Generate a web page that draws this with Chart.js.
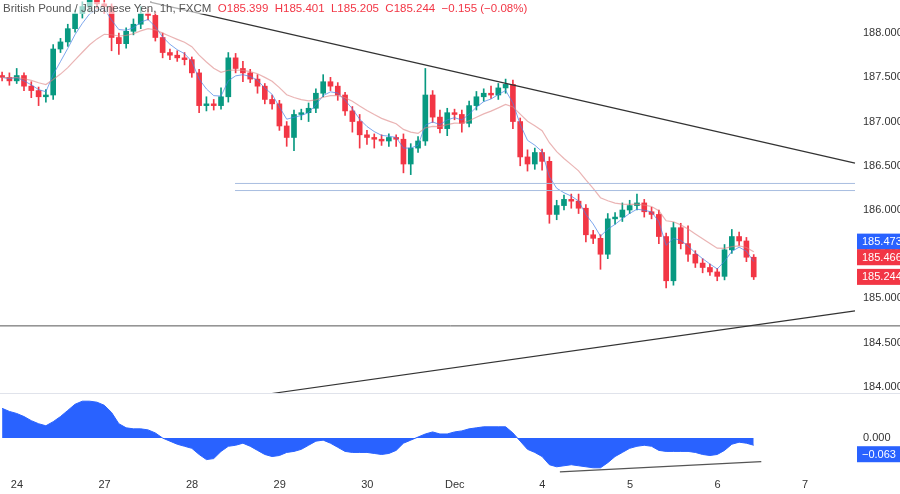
<!DOCTYPE html>
<html><head><meta charset="utf-8">
<script src="https://cdn.jsdelivr.net/npm/chart.js@4.4.1/dist/chart.umd.min.js"></script>
<style>
body{margin:0;background:#fff;width:900px;height:494px;overflow:hidden;font-family:"Liberation Sans",Arial,sans-serif}
#c1{position:absolute;left:0;top:0}
#c2{position:absolute;left:0;top:394px}
#title{position:absolute;left:3px;top:2px;font-size:11.5px;color:#555;background:rgba(255,255,255,0.6);white-space:nowrap}
#title .r{color:#f23645}
#sep{position:absolute;left:0;top:393px;width:900px;height:1px;background:#e0e3eb}
</style></head><body>
<canvas id="c1" width="900" height="394"></canvas>
<canvas id="c2" width="900" height="100"></canvas>
<div id="sep"></div>
<div id="title">British Pound / Japanese Yen, 1h, FXCM &nbsp;<span class="r">O185.399 &nbsp;H185.401 &nbsp;L185.205 &nbsp;C185.244 &nbsp;−0.155 (−0.08%)</span></div>
<script>
const dayLabels = ['24','27','28','29','30','Dec','4','5','6','7'];
const startT = -0.17, stepT = 1/12;
const closes = [187.50,187.46,187.52,187.40,187.35,187.28,187.30,187.82,187.90,188.05,
188.22,188.30,188.38,188.33,188.30,187.95,187.88,188.02,188.10,188.22,
188.20,187.95,187.78,187.75,187.72,187.70,187.55,187.18,187.20,187.18,
187.28,187.72,187.60,187.55,187.48,187.40,187.25,187.20,186.95,186.82,
187.08,187.10,187.15,187.32,187.45,187.40,187.30,187.12,187.00,186.85,
186.82,186.80,186.78,186.82,186.80,186.52,186.70,186.78,187.30,187.05,
186.92,187.10,187.08,186.98,187.18,187.28,187.32,187.30,187.38,187.42,
187.00,186.60,186.52,186.65,186.55,185.95,186.05,186.12,186.10,186.02,
185.72,185.68,185.50,185.90,185.92,186.00,186.05,186.08,185.98,185.95,
185.70,185.20,185.80,185.62,185.50,185.40,185.35,185.30,185.25,185.55,
185.70,185.65,185.466,185.244];
const wickHi = [0.04,0.05,0.08,0.03,0.05,0.04,0.06,0.05,0.04,0.05,
0.04,0.05,0.06,0.05,0.04,0.03,0.05,0.04,0.06,0.08,
0.05,0.04,0.05,0.04,0.05,0.06,0.03,0.04,0.08,0.05,
0.10,0.06,0.05,0.08,0.04,0.05,0.03,0.05,0.04,0.05,
0.05,0.04,0.06,0.05,0.08,0.05,0.04,0.03,0.05,0.08,
0.05,0.04,0.05,0.04,0.03,0.06,0.05,0.05,0.30,0.05,
0.08,0.05,0.04,0.05,0.05,0.06,0.05,0.08,0.05,0.06,
0.05,0.04,0.08,0.05,0.04,0.05,0.06,0.05,0.06,0.08,
0.04,0.05,0.04,0.06,0.05,0.08,0.06,0.10,0.04,0.05,
0.05,0.04,0.06,0.05,0.20,0.04,0.05,0.04,0.04,0.06,
0.08,0.05,0.04,0.03];
const wickLo = [0.04,0.05,0.03,0.05,0.08,0.10,0.06,0.05,0.04,0.05,
0.04,0.05,0.06,0.05,0.08,0.15,0.12,0.05,0.04,0.05,
0.05,0.04,0.06,0.05,0.04,0.06,0.05,0.08,0.06,0.05,
0.04,0.06,0.05,0.10,0.04,0.08,0.05,0.06,0.05,0.10,
0.15,0.06,0.10,0.05,0.04,0.05,0.06,0.05,0.12,0.15,
0.08,0.10,0.05,0.06,0.08,0.10,0.12,0.05,0.05,0.06,
0.05,0.08,0.06,0.10,0.04,0.05,0.05,0.04,0.05,0.06,
0.08,0.10,0.08,0.06,0.10,0.10,0.06,0.05,0.08,0.06,
0.08,0.06,0.17,0.05,0.06,0.05,0.04,0.05,0.06,0.05,
0.08,0.08,0.05,0.06,0.08,0.05,0.06,0.04,0.05,0.04,
0.04,0.05,0.05,0.03];
const oscPx = [29,26,24,21,17,14,12,16,21,27,33,36,36,35,32,25,14,10,9,9,
8,5,0,-3,-6,-8,-10,-16,-21,-20,-13,-8,-7,-5,-8,-12,-16,-18,-17,-14,
-13,-11,-7,-3,-2,-5,-9,-13,-14,-14,-14,-15,-16,-15,-12,-5,-2,1,4,6,
4,4,6,7,9,10,11,11,11,11,5,-3,-11,-14,-18,-26,-28,-27,-26,-27,
-28,-29,-29,-24,-18,-14,-10,-8,-7,-8,-12,-13,-13,-13,-13,-14,-16,-17,-16,-12,
-6,-4,-5,-7];
const downTrend = [[1.52,188.35],[9.57,186.53]];
const upTrend = [[2.87,183.92],[9.57,184.86]];
const hLine = 184.69;
const boxLines = [186.30,186.22];
const oscTrend = [[6.2,-0.132],[8.5,-0.092]];
const priceTicks = [188.0,187.5,187.0,186.5,186.0,185.5,185.0,184.5,184.0];

const XMIN=-0.194, XMAX=9.57;
const GREEN='#089981', RED='#f23645';
const ts = closes.map((c,i)=>startT+i*stepT);
const opens = closes.map((c,i)=> i===0?187.52:closes[i-1]);
const bodies = closes.map((c,i)=>({x:ts[i],y:[opens[i],c]}));
const wicks = closes.map((c,i)=>({x:ts[i],y:[Math.min(opens[i],c)-wickLo[i],Math.max(opens[i],c)+wickHi[i]]}));
const cols = closes.map((c,i)=> c>=opens[i]?GREEN:RED);
function ema(arr,n){const k=2/(n+1);let e=arr[0];return arr.map(v=>e=v*k+e*(1-k));}
const fast = ema(closes,4).map((v,i)=>({x:ts[i],y:v}));
const slow = ema(closes,13).map((v,i)=>({x:ts[i],y:v}));
const osc = oscPx.map((v,i)=>({x:ts[i],y:v*0.004}));

const lineDs=(pts,color,w)=>({type:'line',data:pts.map(p=>({x:p[0],y:p[1]})),borderColor:color,borderWidth:w,pointRadius:0,fill:false});

const LBL={
  c1:{ticks:priceTicks.map(v=>({v,t:v.toFixed(3)})),
      items:[{v:185.473,t:'185.473',bg:'#2962ff',shift:-15},{v:185.466,t:'185.466',bg:RED,shift:0},{v:185.244,t:'185.244',bg:RED,shift:0}]},
  c2:{ticks:[{v:0,t:'0.000'}],items:[{v:-0.063,t:'−0.063',bg:'#2962ff',shift:0}]}
};
const labelsPlugin={id:'lbl',afterDraw(ch){
  const o=LBL[ch.canvas.id]; if(!o) return;
  const c=ch.ctx, y=ch.scales.y;
  c.save();
  c.font='11px "Liberation Sans"';c.textAlign='left';c.textBaseline='middle';
  o.ticks.forEach(t=>{const py=y.getPixelForValue(t.v);c.fillStyle='#333';c.fillText(t.t,863,py);});
  o.items.forEach(it=>{const py=y.getPixelForValue(it.v)+it.shift;
    c.fillStyle=it.bg;c.fillRect(857,py-8,43,16);
    c.fillStyle='#fff';c.fillText(it.t,862,py+0.5);});
  c.restore();
}};
Chart.register(labelsPlugin);

new Chart(document.getElementById('c1'),{
  type:'bar',
  data:{datasets:[
    {data:wicks,backgroundColor:cols,barThickness:1,grouped:false,order:3},
    {data:bodies,backgroundColor:cols,barThickness:5,grouped:false,order:2},
    {type:'line',data:slow,borderColor:'rgba(220,130,130,0.6)',borderWidth:1.2,pointRadius:0,order:1},
    {type:'line',data:fast,borderColor:'rgba(70,130,230,0.7)',borderWidth:1,pointRadius:0,order:1},
    lineDs(downTrend,'#333',1.2),
    lineDs(upTrend,'#333',1.2),
    lineDs([[XMIN,hLine],[XMAX+1,hLine]],'#555',1),
    lineDs([[2.49,boxLines[0]],[XMAX,boxLines[0]]],'#a8bde0',1),
    lineDs([[2.49,boxLines[1]],[XMAX,boxLines[1]]],'#a8bde0',1),
  ]},
  options:{responsive:false,animation:false,clip:false,
    layout:{padding:{left:0,right:45,top:0,bottom:0}},
    plugins:{legend:{display:false},tooltip:{enabled:false}},
    scales:{
      x:{type:'linear',min:XMIN,max:XMAX,display:false,offset:false},
      y:{position:'right',min:183.92,max:188.374,display:false}
    }}
});

new Chart(document.getElementById('c2'),{
  type:'line',
  data:{datasets:[
    {data:osc,borderColor:'#2962ff',borderWidth:1,backgroundColor:'#2962ff',fill:'origin',pointRadius:0},
    lineDs(oscTrend,'#555',1.2)
  ]},
  options:{responsive:false,animation:false,layout:{padding:{left:0,right:45,top:0,bottom:0}},
    plugins:{legend:{display:false},tooltip:{enabled:false}},
    scales:{
      x:{type:'linear',min:XMIN,max:XMAX,offset:false,
        afterFit(s){s.height=18;},
        afterBuildTicks(s){s.ticks=dayLabels.map((l,i)=>({value:i}));},
        grid:{display:false,drawTicks:false},border:{display:false},
        ticks:{color:'#333',font:{size:11,family:'Liberation Sans'},padding:2,maxRotation:0,autoSkip:false,
          callback:(v)=>dayLabels[v]}},
      y:{min:-0.148,max:0.172,display:false}
    }}
});
</script></body></html>
